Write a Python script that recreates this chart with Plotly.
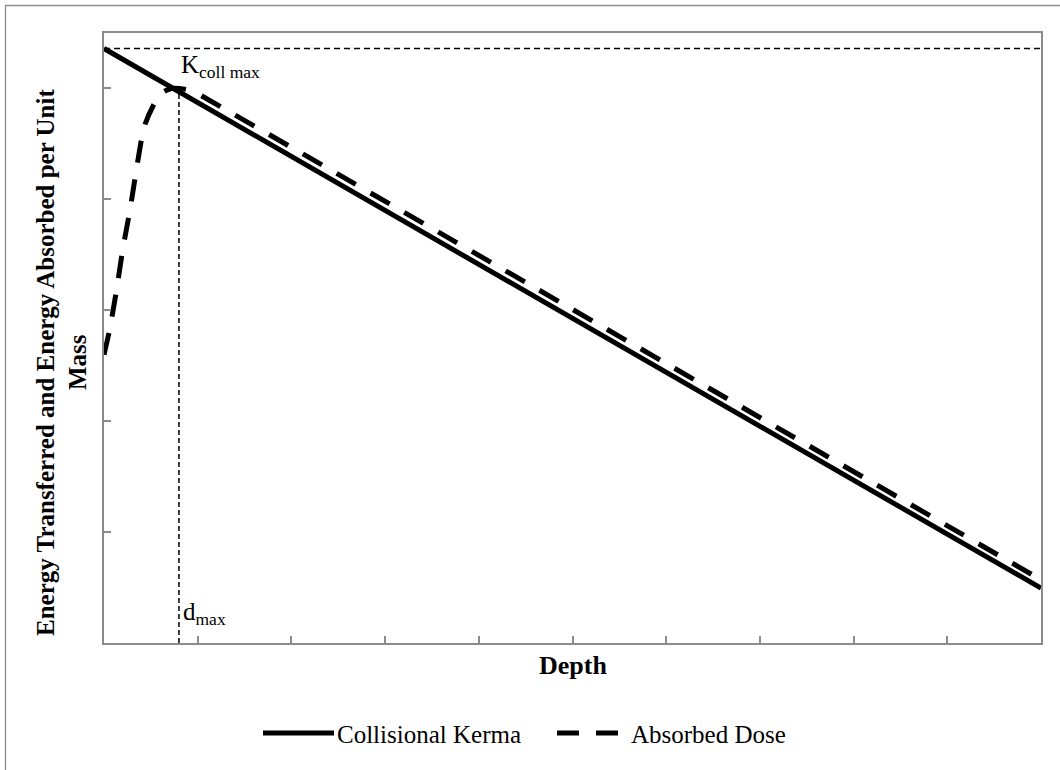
import plotly.graph_objects as go

# Depth axis (arbitrary units) and relative energy per unit mass
depth_kerma = [0, 10]
kerma = [1.072, 0.099]

depth_dose = [0, 0.06, 0.13, 0.2, 0.28, 0.35, 0.43, 0.52, 0.62, 0.72, 0.81, 0.95, 1.1, 10]
dose = [0.52, 0.565, 0.633, 0.709, 0.784, 0.858, 0.931, 0.967, 0.992, 1.0, 1.0, 0.995, 0.981, 0.114]

d_max = 0.8
k_coll_max = kerma[0]

x_range = [0, 10]
y_range = [0, 1.1]

legend_names = ["Collisional Kerma", "Absorbed Dose"]
x_title = "Depth"
y_title_lines = ["Energy Transferred and Energy Absorbed per Unit", "Mass"]

W, H = 1060, 770
M_L, M_R, M_T, M_B = 104, 19, 33, 127
PW = W - M_L - M_R
PH = H - M_T - M_B


def px_x(px):
    return (px - M_L) / PW


def px_y(py):
    return (H - M_B - py) / PH


SERIF = "Liberation Serif, Times New Roman, serif"
AXIS_GREY = "#8c8c8c"

fig = go.Figure()

# K_coll max reference level
fig.add_trace(go.Scatter(
    x=x_range, y=[k_coll_max, k_coll_max], mode="lines",
    line=dict(color="black", width=1.5, dash="6px,4px"),
    showlegend=False, hoverinfo="skip",
))

# depth of maximum dose
fig.add_trace(go.Scatter(
    x=[d_max, d_max], y=[0, max(dose)], mode="lines",
    line=dict(color="black", width=1.5, dash="5px,3px"),
    showlegend=False, hoverinfo="skip",
))

fig.add_trace(go.Scatter(
    x=depth_kerma, y=kerma, mode="lines", name=legend_names[0],
    line=dict(color="black", width=5),
    showlegend=False,
))

fig.add_trace(go.Scatter(
    x=depth_dose, y=dose, mode="lines", name=legend_names[1],
    line=dict(color="black", width=5, dash="22px,17px", shape="spline", smoothing=0.8),
    showlegend=False,
))

shapes = [
    # chart-area frame
    dict(type="rect", xref="paper", yref="paper",
         x0=px_x(5.5), x1=px_x(1075), y0=px_y(800), y1=px_y(5.5),
         line=dict(color=AXIS_GREY, width=1.3), fillcolor="rgba(0,0,0,0)", layer="below"),
    # legend samples
    dict(type="line", xref="paper", yref="paper",
         x0=px_x(263), x1=px_x(334), y0=px_y(733), y1=px_y(733),
         line=dict(color="black", width=5)),
    dict(type="line", xref="paper", yref="paper",
         x0=px_x(557), x1=px_x(619), y0=px_y(733), y1=px_y(733),
         line=dict(color="black", width=5, dash="22px,17px")),
]

annotations = [
    dict(text="K<sub>coll max</sub>", x=px_x(179), y=px_y(66), xref="paper", yref="paper",
         xanchor="left", yanchor="middle", showarrow=False,
         font=dict(family=SERIF, size=25, color="black")),
    dict(text="d<sub>max</sub>", x=px_x(181), y=px_y(613), xref="paper", yref="paper",
         xanchor="left", yanchor="middle", showarrow=False,
         font=dict(family=SERIF, size=25, color="black")),
    dict(text="<b>" + x_title + "</b>", x=0.5, y=px_y(665), xref="paper", yref="paper",
         xanchor="center", yanchor="middle", showarrow=False,
         font=dict(family=SERIF, size=26, color="black")),
    dict(text="<b>" + y_title_lines[0] + "</b>", x=px_x(46), y=px_y(363), xref="paper", yref="paper",
         xanchor="center", yanchor="middle", textangle=-90, showarrow=False,
         font=dict(family=SERIF, size=25, color="black")),
    dict(text="<b>" + y_title_lines[1] + "</b>", x=px_x(77), y=px_y(362), xref="paper", yref="paper",
         xanchor="center", yanchor="middle", textangle=-90, showarrow=False,
         font=dict(family=SERIF, size=25, color="black")),
    dict(text=legend_names[0], x=px_x(335), y=px_y(734), xref="paper", yref="paper",
         xanchor="left", yanchor="middle", showarrow=False,
         font=dict(family=SERIF, size=25, color="black")),
    dict(text=legend_names[1], x=px_x(629), y=px_y(734), xref="paper", yref="paper",
         xanchor="left", yanchor="middle", showarrow=False,
         font=dict(family=SERIF, size=25, color="black")),
]

fig.update_layout(
    width=W, height=H,
    margin=dict(l=M_L, r=M_R, t=M_T, b=M_B, pad=0),
    paper_bgcolor="white", plot_bgcolor="white",
    showlegend=False,
    shapes=shapes,
    annotations=annotations,
    xaxis=dict(range=x_range, dtick=1, tick0=0, showgrid=False, zeroline=False,
               showline=True, linecolor=AXIS_GREY, linewidth=2, mirror=True,
               ticks="inside", ticklen=7, tickwidth=2, tickcolor=AXIS_GREY,
               showticklabels=False, fixedrange=True),
    yaxis=dict(range=y_range, dtick=0.2, tick0=0, showgrid=False, zeroline=False,
               showline=True, linecolor=AXIS_GREY, linewidth=2, mirror=True,
               ticks="inside", ticklen=7, tickwidth=2, tickcolor=AXIS_GREY,
               showticklabels=False, fixedrange=True),
)

fig.write_html("out.html", config={"displayModeBar": False})
